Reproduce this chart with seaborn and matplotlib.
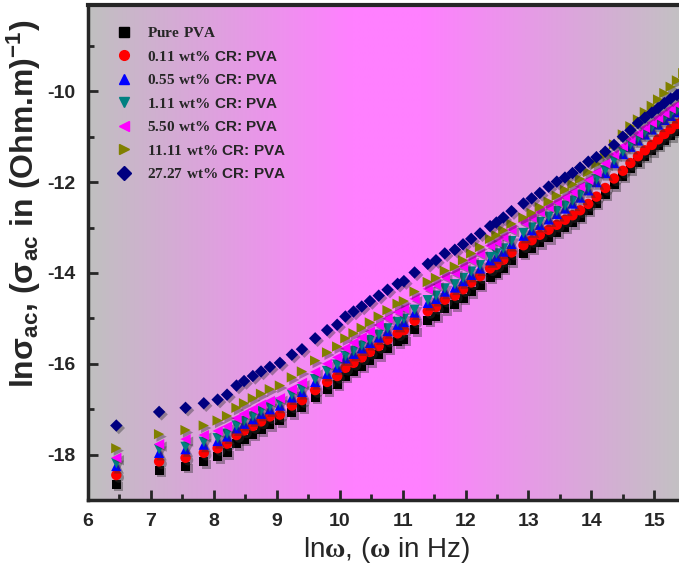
import numpy as np
import pandas as pd
import matplotlib
matplotlib.use("Agg")
import matplotlib.pyplot as plt
import matplotlib.patheffects as pe
from matplotlib.colors import LinearSegmentedColormap
from matplotlib.lines import Line2D
from matplotlib.ticker import MultipleLocator
import seaborn as sns

ln_omega = [6.45, 7.13, 7.55, 7.84, 8.06, 8.21, 8.36, 8.48, 8.62, 8.75, 8.89, 9.05, 9.24, 9.40,
            9.61, 9.80, 9.96, 10.09, 10.22, 10.35, 10.48, 10.62, 10.76, 10.92, 11.02, 11.19,
            11.40, 11.53, 11.67, 11.83, 11.96, 12.09, 12.23, 12.39, 12.49, 12.60, 12.73, 12.92,
            13.05, 13.18, 13.32, 13.45, 13.58, 13.70, 13.82, 13.95, 14.08, 14.22, 14.36, 14.50,
            14.62, 14.74, 14.85, 14.96, 15.06, 15.16, 15.26, 15.36, 15.46]

pure_pva = [-18.65, -18.35, -18.26, -18.16, -18.05, -17.96, -17.76, -17.66, -17.55, -17.45, -17.34,
            -17.25, -17.08, -16.96, -16.74, -16.57, -16.45, -16.28, -16.17, -16.05, -15.93, -15.80,
            -15.66, -15.52, -15.46, -15.25, -15.04, -14.95, -14.79, -14.70, -14.56, -14.41, -14.27,
            -14.09, -14.01, -13.90, -13.73, -13.57, -13.46, -13.33, -13.22, -13.10, -12.99, -12.89,
            -12.77, -12.62, -12.46, -12.27, -12.06, -11.87, -11.71, -11.56, -11.43, -11.31, -11.19,
            -11.08, -10.98, -10.88, -10.76]

cr_0_11 = [-18.45, -18.15, -18.07, -17.96, -17.86, -17.76, -17.57, -17.47, -17.37, -17.27, -17.16,
           -17.12, -16.92, -16.80, -16.58, -16.40, -16.27, -16.09, -15.98, -15.86, -15.74, -15.61,
           -15.47, -15.33, -15.26, -15.05, -14.84, -14.75, -14.59, -14.50, -14.36, -14.21, -14.07,
           -13.90, -13.82, -13.71, -13.55, -13.39, -13.28, -13.16, -13.05, -12.94, -12.83, -12.73,
           -12.62, -12.48, -12.32, -12.13, -11.92, -11.75, -11.58, -11.43, -11.30, -11.18, -11.06,
           -10.94, -10.83, -10.72, -10.60]

cr_0_55 = [-18.25, -17.96, -17.88, -17.78, -17.70, -17.60, -17.42, -17.32, -17.22, -17.10, -17.00,
           -16.92, -16.74, -16.62, -16.40, -16.22, -16.08, -15.88, -15.78, -15.66, -15.54, -15.42,
           -15.28, -15.14, -15.08, -14.87, -14.66, -14.57, -14.41, -14.32, -14.18, -14.04, -13.90,
           -13.72, -13.64, -13.53, -13.36, -13.18, -13.06, -12.94, -12.82, -12.70, -12.58, -12.47,
           -12.34, -12.18, -12.00, -11.80, -11.58, -11.38, -11.22, -11.08, -10.95, -10.84, -10.73,
           -10.63, -10.54, -10.46, -10.36]

cr_1_11 = [-18.19, -17.88, -17.83, -17.72, -17.64, -17.54, -17.36, -17.26, -17.16, -17.04, -16.94,
           -16.86, -16.68, -16.56, -16.34, -16.16, -16.02, -15.83, -15.72, -15.60, -15.48, -15.36,
           -15.22, -15.08, -15.01, -14.81, -14.60, -14.50, -14.34, -14.25, -14.11, -13.97, -13.83,
           -13.65, -13.57, -13.46, -13.30, -13.12, -13.00, -12.88, -12.76, -12.64, -12.52, -12.41,
           -12.28, -12.12, -11.94, -11.74, -11.52, -11.33, -11.17, -11.03, -10.90, -10.79, -10.68,
           -10.58, -10.49, -10.41, -10.31]

cr_5_50 = [-18.07, -17.77, -17.66, -17.57, -17.48, -17.38, -17.20, -17.10, -17.00, -16.90, -16.82,
           -16.76, -16.56, -16.42, -16.18, -16.00, -15.86, -15.66, -15.54, -15.42, -15.29, -15.15,
           -15.00, -14.86, -14.78, -14.57, -14.35, -14.26, -14.09, -14.00, -13.86, -13.72, -13.58,
           -13.40, -13.32, -13.21, -13.05, -12.89, -12.78, -12.66, -12.55, -12.44, -12.33, -12.22,
           -12.10, -11.95, -11.78, -11.59, -11.39, -11.21, -11.06, -10.93, -10.80, -10.69, -10.58,
           -10.48, -10.38, -10.29, -10.19]

cr_11_11 = [-17.86, -17.55, -17.46, -17.36, -17.25, -17.15, -16.97, -16.87, -16.76, -16.66, -16.56,
            -16.48, -16.30, -16.17, -15.93, -15.75, -15.62, -15.44, -15.33, -15.21, -15.09, -14.96,
            -14.82, -14.68, -14.62, -14.41, -14.20, -14.11, -13.95, -13.86, -13.72, -13.57, -13.43,
            -13.25, -13.17, -13.06, -12.92, -12.78, -12.68, -12.55, -12.43, -12.30, -12.17, -12.05,
            -11.93, -11.78, -11.60, -11.40, -11.17, -10.95, -10.77, -10.62, -10.46, -10.32, -10.18,
            -10.04, -9.90, -9.76, -9.60]

cr_27_27 = [-17.36, -17.06, -16.97, -16.87, -16.79, -16.68, -16.48, -16.38, -16.27, -16.17, -16.07,
            -15.98, -15.80, -15.68, -15.44, -15.26, -15.14, -14.96, -14.85, -14.74, -14.62, -14.50,
            -14.37, -14.24, -14.18, -13.99, -13.80, -13.72, -13.57, -13.49, -13.37, -13.25, -13.13,
            -12.97, -12.89, -12.78, -12.64, -12.47, -12.36, -12.24, -12.10, -11.99, -11.90, -11.80,
            -11.68, -11.55, -11.45, -11.33, -11.18, -11.00, -10.86, -10.70, -10.58, -10.47, -10.37,
            -10.26, -10.16, -10.08, -9.98]

series_names = ["Pure PVA", "0.11", "0.55", "1.11", "5.50", "11.11", "27.27"]
series_values = [pure_pva, cr_0_11, cr_0_55, cr_1_11, cr_5_50, cr_11_11, cr_27_27]
legend_labels = [r"$\mathrm{Pure\ PVA}$",
                 r"$\mathrm{0.11\ wt\%}$ CR: PVA",
                 r"$\mathrm{0.55\ wt\%}$ CR: PVA",
                 r"$\mathrm{1.11\ wt\%}$ CR: PVA",
                 r"$\mathrm{5.50\ wt\%}$ CR: PVA",
                 r"$\mathrm{11.11\ wt\%}$ CR: PVA",
                 r"$\mathrm{27.27\ wt\%}$ CR: PVA"]
colors = ["#000000", "#ff0000", "#0000ff", "#008080", "#ff00ff", "#808000", "#000080"]
markers = ["s", "o", "^", "v", "<", ">", "D"]
sizes = [42, 56, 55, 55, 55, 55, 40]

rows = []
for name, vals in zip(series_names, series_values):
    for xv, yv in zip(ln_omega, vals):
        rows.append((name, xv, yv))
df = pd.DataFrame(rows, columns=["series", "lnw", "lns"])

sns.set_style("ticks")
plt.rcParams["font.family"] = ["Liberation Sans", "DejaVu Sans"]
plt.rcParams["mathtext.fontset"] = "custom"
plt.rcParams["mathtext.rm"] = "Liberation Serif:bold"
plt.rcParams["mathtext.default"] = "regular"
plt.rcParams["axes.unicode_minus"] = False

fig = plt.figure(figsize=(6.79, 5.76), dpi=100)
ax = fig.add_axes([88 / 679, 1 - 500 / 576, 1.01 - 88 / 679, (500 - 5) / 576])

cmap = LinearSegmentedColormap.from_list(
    "bg", [(0.0, "#c0c0c0"), (0.44, "#ff80ff"), (0.56, "#ff80ff"), (1.0, "#c2c2c2")])
grad = np.linspace(0, 1, 512).reshape(1, -1)
ax.imshow(grad, cmap=cmap, aspect="auto", extent=[0, 1, 0, 1],
          transform=ax.transAxes, zorder=0, interpolation="bilinear")

shadow = [pe.SimplePatchShadow(offset=(1.8, -1.8), shadow_rgbFace="#303030", alpha=0.4), pe.Normal()]
for name, col, mk, sz in zip(series_names, colors, markers, sizes):
    sub = df[df["series"] == name]
    sns.scatterplot(data=sub, x="lnw", y="lns", color=col, marker=mk, s=sz,
                    edgecolor="none", linewidth=0, ax=ax, zorder=3, legend=False)
for coll in ax.collections:
    coll.set_path_effects(shadow)

ax.set_xlim(6, 15.5)
ax.set_ylim(-19.0, -8.1)
ax.xaxis.set_major_locator(MultipleLocator(1))
ax.xaxis.set_minor_locator(MultipleLocator(0.5))
ax.yaxis.set_major_locator(MultipleLocator(2))
ax.yaxis.set_minor_locator(MultipleLocator(1))
ax.tick_params(axis="both", which="major", direction="in", length=7, width=2,
               labelsize=14, pad=9)
ax.tick_params(axis="y", which="major", pad=9)
ax.tick_params(axis="both", which="minor", direction="in", length=4, width=2)
ax.tick_params(top=False, right=False, which="both")
for lab in ax.get_xticklabels() + ax.get_yticklabels():
    lab.set_fontweight("bold")
for side in ["left", "bottom", "top"]:
    ax.spines[side].set_linewidth(2.5)
ax.spines["top"].set_linewidth(3)
ax.spines["right"].set_visible(False)

ax.set_xlabel(r"ln$\mathrm{\omega}$, ($\mathrm{\omega}$ in Hz)", fontsize=20, labelpad=4)
ax.set_ylabel("")
fig.text(24 / 679, 1 - 204 / 576,
         r"ln$\sigma_{ac}$, ($\sigma_{ac}$ in (Ohm.m)$^{-1}$)", fontsize=23,
         fontweight="bold", rotation=90, ha="center", va="center")

handles = [Line2D([], [], linestyle="none", marker=mk, color=col, markersize=7)
           for col, mk in zip(colors, markers)]
leg = ax.legend(handles, legend_labels, loc="upper left", bbox_to_anchor=(0.012, 0.985),
                frameon=False, handletextpad=0.5, labelspacing=0.62, borderpad=0.4,
                prop={"weight": "bold", "size": 11})

fig.savefig("out.png", dpi=100)
